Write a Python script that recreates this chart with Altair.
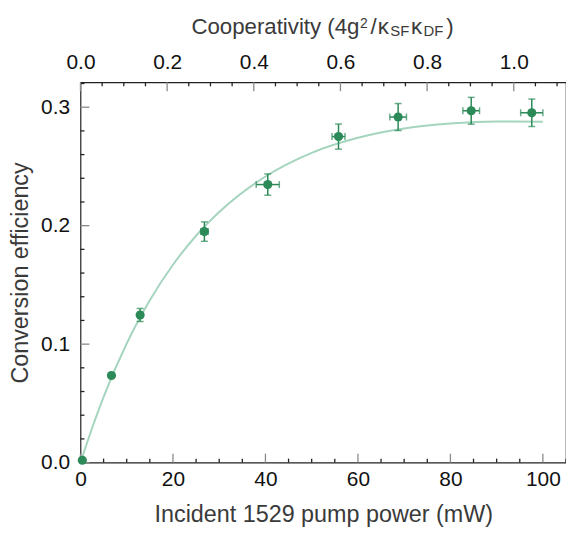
import altair as alt
import pandas as pd

# ---- data ----
power = [0.4, 6.7, 12.9, 26.8, 40.5, 55.8, 68.7, 84.5, 97.6]
efficiency = [0.002, 0.0735, 0.1246, 0.1950, 0.2347, 0.2752, 0.2917, 0.2970, 0.2953]
power_err = [0.0, 0.0, 0.5, 0.8, 2.5, 1.4, 1.8, 1.8, 2.4]
eff_err = [0.0, 0.0015, 0.0055, 0.0082, 0.0090, 0.0106, 0.0114, 0.0113, 0.0116]

fit_power = [0, 2.5, 5, 10, 15, 20, 25, 30, 40, 50, 60, 70, 80, 90, 100]
fit_eff = [0.0, 0.029, 0.0555, 0.1005, 0.137, 0.167, 0.1915, 0.2115, 0.2415,
           0.2615, 0.2742, 0.282, 0.2862, 0.2879, 0.2877]

x_ticks = [0, 20, 40, 60, 80, 100]
x_minor = [5, 10, 15, 25, 30, 35, 45, 50, 55, 65, 70, 75, 85, 90, 95, 105]
y_ticks = [0.0, 0.1, 0.2, 0.3]
y_minor = [0.02, 0.04, 0.06, 0.08, 0.12, 0.14, 0.16, 0.18, 0.22, 0.24, 0.26, 0.28, 0.32]
coop_ticks = [0.0, 0.2, 0.4, 0.6, 0.8, 1.0]
coop_minor = [0.05, 0.1, 0.15, 0.25, 0.3, 0.35, 0.45, 0.5, 0.55, 0.65, 0.7, 0.75,
              0.85, 0.9, 0.95, 1.05, 1.1]

x_domain = [0, 105]
y_domain = [0, 0.321]
coop_domain = [0, 1.1206]

# title pieces of the top axis: (text, font size, vertical shift, x from plot left)
top_title = [("Cooperativity (4g", 22.4, 0, 111.7), ("2", 14, -6, 281.5),
             ("/", 22.4, 0, 292), ("κ", 22.4, 0, 299.5), ("SF", 15, 2.5, 312),
             ("κ", 22.4, 0, 333), ("DF", 15, 2.5, 345.5), (")", 22.4, 0, 368.5)]

FONT = "Liberation Sans"
GREEN = "#2b8a57"
FIT = "#a6d5bf"
MAJOR = "#8a8a8a"
MINOR = "#222222"
MAJ_LEN = 9   # px
MIN_LEN = 4   # px
TW = 1.3
W, H = 489, 383

df = pd.DataFrame({"p": power, "e": efficiency, "pe": power_err, "ee": eff_err})
df["p_lo"] = df.p - df.pe
df["p_hi"] = df.p + df.pe
df["e_lo"] = df.e - df.ee
df["e_hi"] = df.e + df.ee
fit = pd.DataFrame({"p": fit_power, "e": fit_eff})

xs = alt.Scale(domain=x_domain, nice=False, zero=False)
ys = alt.Scale(domain=y_domain, nice=False, zero=False)
cs = alt.Scale(domain=coop_domain, nice=False, zero=False)

# tick marks are centred, so place them half a tick length inside the frame
x_px = (x_domain[1] - x_domain[0]) / W
y_px = (y_domain[1] - y_domain[0]) / H


def vticks(vals, length, top):
    base = y_domain[1] if top else y_domain[0]
    sign = -1 if top else 1
    return pd.DataFrame({"v": vals, "m": [base + sign * length / 2 * y_px] * len(vals)})


def hticks(vals, length):
    return pd.DataFrame({"v": vals, "m": [x_domain[0] + length / 2 * x_px] * len(vals)})


def tick_chart(data, vertical, length, color, vscale, mscale):
    mk = alt.Chart(data).mark_tick(color=color, orient="vertical" if vertical else "horizontal",
                                   size=length, thickness=TW, opacity=1)
    if vertical:
        return mk.encode(x=alt.X("v:Q", scale=vscale), y=alt.Y("m:Q", scale=mscale))
    return mk.encode(y=alt.Y("v:Q", scale=vscale), x=alt.X("m:Q", scale=mscale))


ax_bottom = alt.Axis(orient="bottom", values=x_ticks, format="d", ticks=False, tickSize=0,
                     domain=False, grid=False, labelFlush=False,
                     labelFont=FONT, labelFontSize=21, labelColor="#111", labelPadding=6,
                     title="Incident 1529 pump power (mW)", titleFont=FONT,
                     titleFontSize=23.5, titleFontWeight="normal", titleColor="#3a3a3a",
                     titlePadding=13)
ax_left = alt.Axis(orient="left", values=y_ticks, format=".1f", ticks=False, tickSize=0,
                   domain=False, grid=False, labelFlush=False,
                   labelFont=FONT, labelFontSize=21, labelColor="#111", labelPadding=11,
                   title="Conversion efficiency", titleFont=FONT, titleFontSize=23.5,
                   titleFontWeight="normal", titleColor="#3a3a3a", titlePadding=8)
ax_top = alt.Axis(orient="top", values=coop_ticks, format=".1f", ticks=False, tickSize=0,
                  domain=False, grid=False, labelFlush=False,
                  labelFont=FONT, labelFontSize=21, labelColor="#111",
                  labelPadding=10, title=None)

line = alt.Chart(fit).mark_line(color=FIT, strokeWidth=2, interpolate="monotone").encode(
    x=alt.X("p:Q", scale=xs, axis=ax_bottom),
    y=alt.Y("e:Q", scale=ys, axis=ax_left),
)

bx_min = tick_chart(vticks(x_minor, MIN_LEN, False), True, MIN_LEN, MINOR, xs, ys)
bx_maj = tick_chart(vticks(x_ticks, MAJ_LEN, False), True, MAJ_LEN, MAJOR, xs, ys)
ly_min = tick_chart(hticks(y_minor, MIN_LEN), False, MIN_LEN, MINOR, ys, xs)
ly_maj = tick_chart(hticks(y_ticks, MAJ_LEN), False, MAJ_LEN, MAJOR, ys, xs)

xerr = alt.Chart(df).mark_rule(color=GREEN, strokeWidth=1.5).encode(
    x=alt.X("p_lo:Q", scale=xs), x2="p_hi:Q", y=alt.Y("e:Q", scale=ys))
yerr = alt.Chart(df).mark_rule(color=GREEN, strokeWidth=1.5).encode(
    x=alt.X("p:Q", scale=xs), y=alt.Y("e_lo:Q", scale=ys), y2="e_hi:Q")
cap_lo = alt.Chart(df).mark_tick(color=GREEN, orient="horizontal", size=7, thickness=1.5).encode(
    x=alt.X("p:Q", scale=xs), y=alt.Y("e_lo:Q", scale=ys))
cap_hi = alt.Chart(df).mark_tick(color=GREEN, orient="horizontal", size=7, thickness=1.5).encode(
    x=alt.X("p:Q", scale=xs), y=alt.Y("e_hi:Q", scale=ys))
cap_l = alt.Chart(df).mark_tick(color=GREEN, orient="vertical", size=7, thickness=1.5).encode(
    x=alt.X("p_lo:Q", scale=xs), y=alt.Y("e:Q", scale=ys))
cap_r = alt.Chart(df).mark_tick(color=GREEN, orient="vertical", size=7, thickness=1.5).encode(
    x=alt.X("p_hi:Q", scale=xs), y=alt.Y("e:Q", scale=ys))
dots = alt.Chart(df).mark_circle(color=GREEN, size=85, opacity=1).encode(
    x=alt.X("p:Q", scale=xs), y=alt.Y("e:Q", scale=ys))

main = alt.layer(line, bx_min, bx_maj, ly_min, ly_maj,
                 xerr, yerr, cap_lo, cap_hi, cap_l, cap_r, dots)

top_min = alt.Chart(vticks(coop_minor, MIN_LEN, True)).mark_tick(
    color=MINOR, orient="vertical", size=MIN_LEN, thickness=TW, opacity=1).encode(
    x=alt.X("v:Q", scale=cs, axis=ax_top), y=alt.Y("m:Q", scale=ys, axis=None))
top_maj = alt.Chart(vticks(coop_ticks, MAJ_LEN, True)).mark_tick(
    color=MAJOR, orient="vertical", size=MAJ_LEN, thickness=TW, opacity=1).encode(
    x=alt.X("v:Q", scale=cs), y=alt.Y("m:Q", scale=ys, axis=None))
top = alt.layer(top_min, top_maj)

title_layers = []
for txt, size, shift, px in top_title:
    title_layers.append(
        alt.Chart(pd.DataFrame({"t": [txt]})).mark_text(
            align="left", baseline="alphabetic", font=FONT, fontSize=size,
            color="#3a3a3a", dy=shift).encode(
            x=alt.value(px), y=alt.value(-49), text="t:N"))

chart = alt.layer(main, top, *title_layers).resolve_scale(
    x="independent", y="independent"
).properties(
    width=W, height=H,
    autosize=alt.AutoSizeParams(type="none"),
    padding={"left": 73, "top": 73, "right": 0, "bottom": 63},
).configure_view(stroke="#222", strokeWidth=1.2)

chart.save("out.html", embed_options={"renderer": "svg", "actions": False})
